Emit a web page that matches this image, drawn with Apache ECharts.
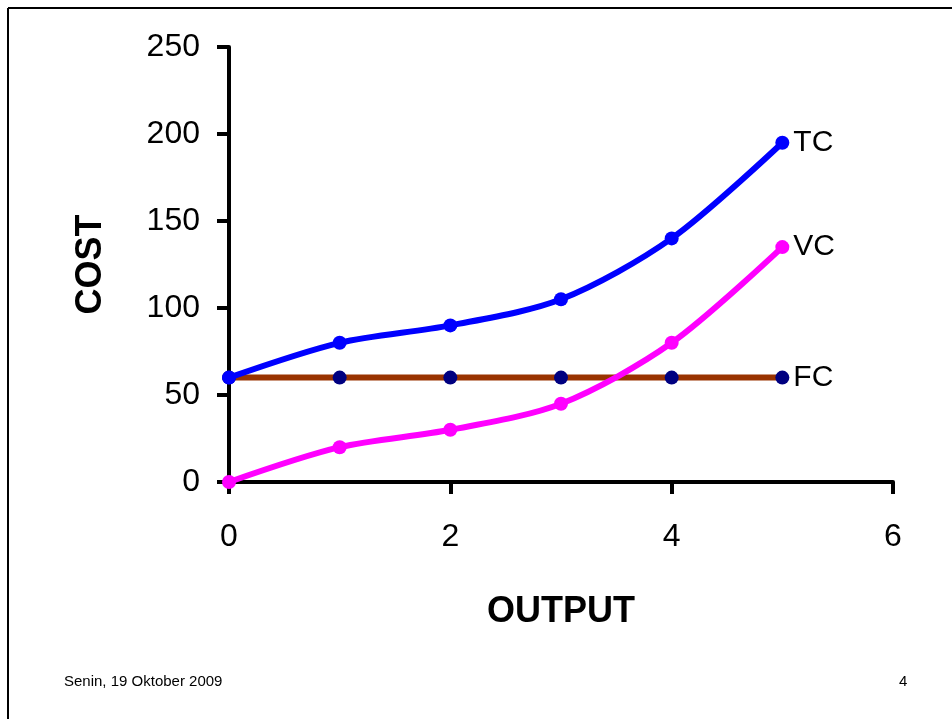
<!DOCTYPE html>
<html><head><meta charset="utf-8">
<script src="https://cdn.jsdelivr.net/npm/echarts@6/dist/echarts.min.js"></script>
<style>html,body{margin:0;padding:0;background:#fff}#c{width:952px;height:719px}</style>
</head><body><div id="c"></div>
<script>
const output = [0, 1, 2, 3, 4, 5];
const fc = [60, 60, 60, 60, 60, 60];
const vc = [0, 20, 30, 45, 80, 135];
const tc = [60, 80, 90, 105, 140, 195];
const seriesNames = ['FC', 'VC', 'TC'];
const yTicks = [0, 50, 100, 150, 200, 250];
const xTicks = [0, 2, 4, 6];

const chart = echarts.init(document.getElementById('c'), null, {renderer: 'canvas'});
const font = 'Liberation Sans, Arial, sans-serif';
function mk(name, vals, color, markerColor, z) {
  return {
    name: name, type: 'line', z: z,
    data: vals.map((v, i) => [output[i], v]),
    smooth: 0.3,
    symbol: 'circle', symbolSize: 14,
    lineStyle: {color: color, width: 6},
    itemStyle: {color: markerColor},
    label: {
      show: true, position: 'right', distance: 4,
      formatter: p => p.dataIndex === vals.length - 1 ? name : '',
      color: '#000', fontSize: 30, fontFamily: font
    },
    animation: false
  };
}
chart.setOption({
  backgroundColor: '#fff',
  animation: false,
  grid: {left: 229, right: 59, top: 47, bottom: 237, containLabel: false},
  xAxis: {
    type: 'value', min: 0, max: 6, interval: 2,
    name: 'OUTPUT', nameLocation: 'middle', nameGap: 112,
    nameTextStyle: {fontSize: 36, fontWeight: 'bold', color: '#000', fontFamily: font},
    axisLine: {show: true, onZero: false, lineStyle: {color: '#000', width: 4}},
    axisTick: {show: true, length: 12, lineStyle: {color: '#000', width: 4}},
    axisLabel: {fontSize: 32, color: '#000', fontFamily: font, margin: 39,
      formatter: v => xTicks.includes(v) ? String(v) : ''},
    splitLine: {show: false}
  },
  yAxis: {
    type: 'value', min: 0, max: 250, interval: 50,
    name: 'COST', nameLocation: 'middle', nameGap: 120, nameRotate: 90,
    nameTextStyle: {fontSize: 36, fontWeight: 'bold', color: '#000', fontFamily: font},
    axisLine: {show: true, onZero: false, lineStyle: {color: '#000', width: 4}},
    axisTick: {show: true, length: 12, lineStyle: {color: '#000', width: 4}},
    axisLabel: {fontSize: 32, color: '#000', fontFamily: font, margin: 29,
      formatter: v => yTicks.includes(v) ? String(v) : ''},
    splitLine: {show: false}
  },
  series: [
    mk(seriesNames[0], fc, '#993300', '#000080', 2),
    mk(seriesNames[1], vc, '#FF00FF', '#FF00FF', 3),
    mk(seriesNames[2], tc, '#0000FF', '#0000FF', 4)
  ],
  graphic: [
    {type: 'line', shape: {x1: 8, y1: 8, x2: 952, y2: 8}, style: {stroke: '#000', lineWidth: 2}},
    {type: 'line', shape: {x1: 8, y1: 8, x2: 8, y2: 719}, style: {stroke: '#000', lineWidth: 2}},
    {type: 'text', left: 64, top: 674, style: {text: 'Senin, 19 Oktober 2009', fontSize: 15, fill: '#000', fontFamily: font}},
    {type: 'text', left: 899, top: 674, style: {text: '4', fontSize: 15, fill: '#000', fontFamily: font}}
  ]
});
</script></body></html>
